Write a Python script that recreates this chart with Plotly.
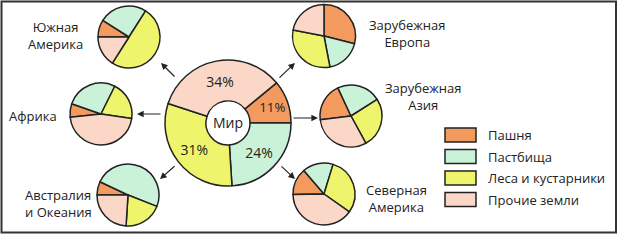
import plotly.graph_objects as go

W, H = 619, 240

categories = ["Пашня", "Пастбища", "Леса и кустарники", "Прочие земли"]
colors = ["#F39A5E", "#C9F2D8", "#EEF56C", "#FAD7C6"]

world_values = [11, 24, 31, 34]

regions = ["Южная<br>Америка", "Зарубежная<br>Европа", "Зарубежная<br>Азия",
           "Северная<br>Америка", "Африка", "Австралия<br>и Океания"]
sa_values = [9, 25, 50, 16]
eu_values = [29, 18, 31, 22]
as_values = [20, 23, 26, 31]
na_values = [14, 16, 30, 40]
af_values = [7, 27, 20, 46]
au_values = [7, 49, 20, 24]
region_values = [sa_values, eu_values, as_values, na_values, af_values, au_values]

# layout (pixel) parameters
region_pie = [  # cx, cy, r, rotation
    (129, 37, 31, -90),
    (324, 36, 31.5, 0),
    (351, 116, 31, -97),
    (324, 194, 31, -91),
    (101, 114, 31, -96),
    (128, 195, 31, -90),
]
region_label = [(55, 35, "center"), (407, 34, "center"), (423, 96, "center"),
                (396, 198, "center"), (33, 116, "center"), (58, 203, "left")]
arrows = [  # tail (x,y), head (x,y)
    ((176, 78), (161, 63)),
    ((278, 79), (295, 63)),
    ((292, 118), (318, 118)),
    ((280, 165), (295, 179)),
    ((162, 114), (137, 114)),
    ((176, 165), (160, 179)),
]
FONT = "Open Sans"
INK = "#222222"


def dom(cx, cy, r):
    return dict(x=[(cx - r) / W, (cx + r) / W], y=[1 - (cy + r) / H, 1 - (cy - r) / H])


fig = go.Figure()

fig.add_trace(go.Pie(
    labels=categories, values=world_values, sort=False, direction="clockwise",
    rotation=50.4, hole=0.35, domain=dom(228, 123, 63),
    marker=dict(colors=colors, line=dict(color=INK, width=1.5)),
    texttemplate="%{value}%", textposition="inside", insidetextorientation="horizontal",
    textfont=dict(family=FONT, size=14, color=INK), showlegend=False, hoverinfo="label+value",
))

for vals, (cx, cy, r, rot) in zip(region_values, region_pie):
    fig.add_trace(go.Pie(
        labels=categories, values=vals, sort=False, direction="clockwise",
        rotation=rot, domain=dom(cx, cy, r), textinfo="none",
        marker=dict(colors=colors, line=dict(color=INK, width=1.5)),
        showlegend=False, hoverinfo="label+value",
    ))

ann = []
shapes = []

ann.append(dict(x=228 / W, y=1 - 123 / H, xref="paper", yref="paper", text="Мир",
                xanchor="center", yanchor="middle",
                showarrow=False, font=dict(family=FONT, size=14, color=INK)))

for txt, (x, y, al) in zip(regions, region_label):
    ann.append(dict(x=x / W, y=1 - y / H, xref="paper", yref="paper", text=txt,
                    xanchor="center", yanchor="middle",
                    showarrow=False, align=al, font=dict(family=FONT, size=13, color=INK)))

for (tx, ty), (hx, hy) in arrows:
    ann.append(dict(x=hx / W, y=1 - hy / H, xref="paper", yref="paper", text="",
                    showarrow=True, ax=tx - hx, ay=ty - hy, arrowhead=2, arrowsize=1.1,
                    arrowwidth=1.2, arrowcolor=INK))

# legend
for i, (cat, col) in enumerate(zip(categories, colors)):
    yc = 135 + i * 21.5
    shapes.append(dict(type="rect", xref="paper", yref="paper",
                       x0=445 / W, x1=476 / W, y0=1 - (yc + 7) / H, y1=1 - (yc - 7) / H,
                       fillcolor=col, line=dict(color=INK, width=1.5)))
    ann.append(dict(x=486 / W, y=1 - yc / H, xref="paper", yref="paper", text=cat,
                    showarrow=False, xanchor="left", yanchor="middle",
                    font=dict(family=FONT, size=13, color=INK)))

# frame
shapes.append(dict(type="rect", xref="paper", yref="paper", x0=1.5 / W, x1=616 / W,
                   y0=1 - 232.5 / H, y1=1 - 1.5 / H, line=dict(color="#333333", width=2)))

fig.update_layout(width=W, height=H, margin=dict(l=0, r=0, t=0, b=0), autosize=False,
                  paper_bgcolor="white", plot_bgcolor="white",
                  annotations=ann, shapes=shapes, showlegend=False)

fig.write_html("out.html")
